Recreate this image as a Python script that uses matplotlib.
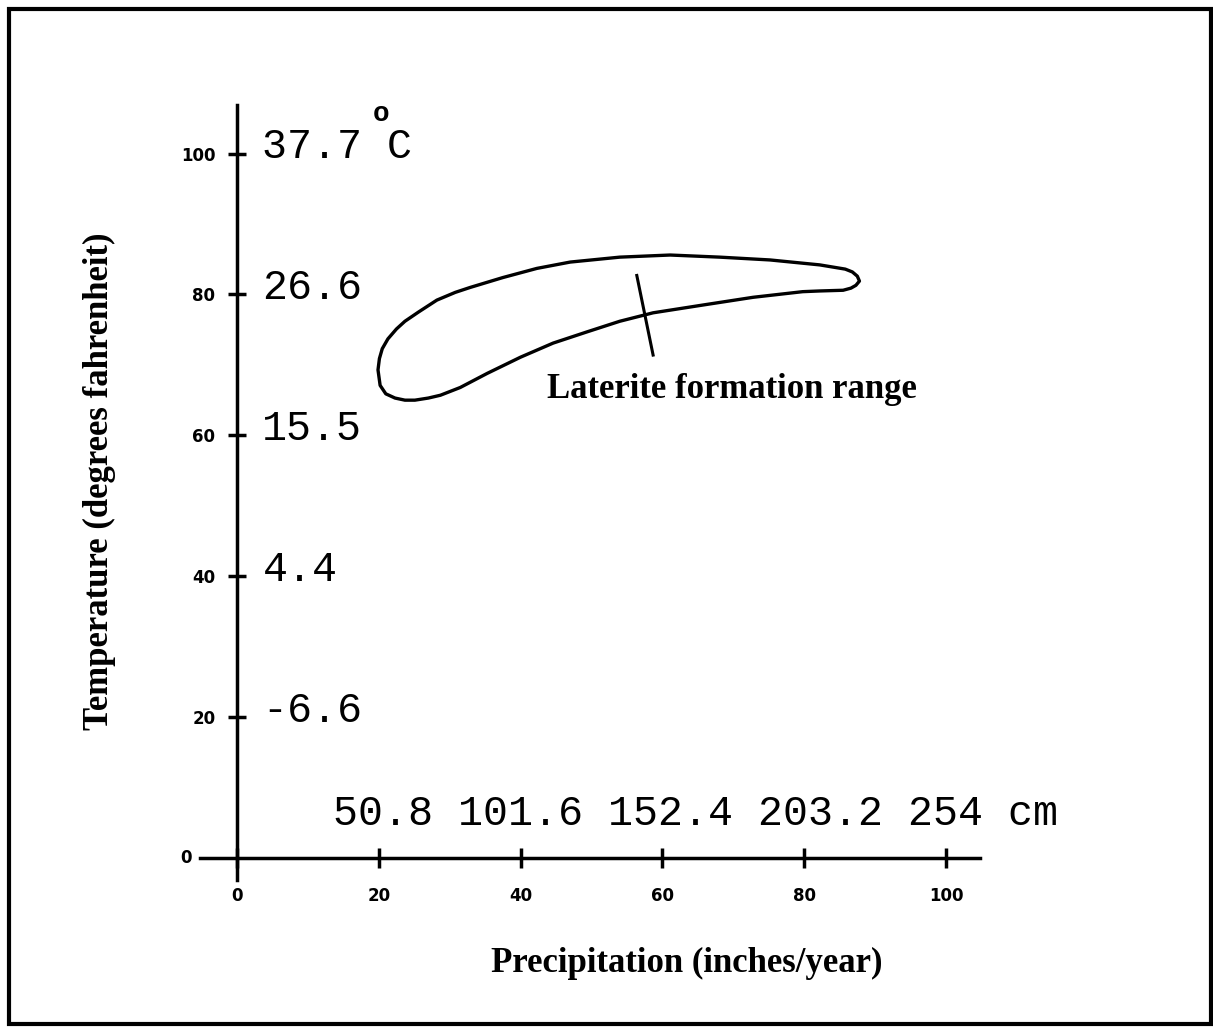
import matplotlib
matplotlib.use('Agg')
import matplotlib.pyplot as plt
from matplotlib.patches import Rectangle

# fahrenheit ticks and the typed celsius equivalents
f_ticks = [20, 40, 60, 80, 100]
c_labels = ['-6.6', '4.4', '15.5', '26.6', '37.7']
# inch ticks and typed cm equivalents
in_ticks = [0, 20, 40, 60, 80, 100]
cm_labels = ['50.8', '101.6', '152.4', '203.2', '254']

# laterite formation range outline (precip inches, temp F)
lat_x = [19.9, 20.1, 20.5, 21.3, 22.5, 23.7, 25.6, 28.2, 30.8, 32.9, 37.5,
         42.3, 47.0, 54.0, 61.1, 68.1, 75.2, 82.2, 85.8, 86.8, 87.5, 87.8,
         87.3, 86.6, 85.5, 82.2, 79.8, 72.8, 65.7, 58.7, 54.0, 49.4, 44.6,
         40.0, 35.3, 31.5, 28.7, 27.0, 25.1, 23.7, 22.3, 21.0, 20.2]
lat_y = [69.3, 70.9, 72.3, 73.7, 75.1, 76.2, 77.5, 79.2, 80.3, 81.0, 82.4,
         83.7, 84.6, 85.3, 85.6, 85.3, 84.9, 84.2, 83.6, 83.2, 82.6, 81.9,
         81.3, 80.9, 80.6, 80.5, 80.4, 79.6, 78.5, 77.4, 76.2, 74.7, 73.1,
         71.1, 68.8, 66.8, 65.7, 65.3, 65.0, 65.0, 65.3, 65.9, 67.1]
# pointer stroke across the outline
ptr_x = [56.4, 58.7]
ptr_y = [82.7, 71.4]

serif = 'Liberation Serif'
mono = 'Liberation Mono'
narrow = ['Liberation Sans Narrow', 'DejaVu Sans']

fig = plt.figure(figsize=(12.13, 10.28), dpi=100)
ax = fig.add_axes([0.1649, 0.1440, 0.6430, 0.7539])
ax.set_xlim(-5.2, 104.8)
ax.set_ylim(-3.1, 106.9)

for s in ['top', 'right']:
    ax.spines[s].set_visible(False)
ax.spines['left'].set_position(('data', 0))
ax.spines['bottom'].set_position(('data', 0))
ax.spines['left'].set_linewidth(2.5)
ax.spines['bottom'].set_linewidth(2.5)

ax.set_xticks(in_ticks)
ax.set_xticklabels([str(v) for v in in_ticks], family=narrow,
                   fontweight='bold', fontsize=12)
ax.set_yticks(f_ticks)
ax.set_yticklabels([str(v) for v in f_ticks], family=narrow,
                   fontweight='bold', fontsize=12)
ax.tick_params(axis='x', direction='inout', length=14, width=2.5, pad=14)
ax.tick_params(axis='y', direction='inout', length=13, width=2.5, pad=9)
ax.text(-6.3, 0, '0', family=narrow, fontweight='bold', fontsize=12,
        ha='right', va='center')

# outline (closed) and pointer
ax.fill(lat_x, lat_y, fill=False, edgecolor='black', lw=2.4,
        joinstyle='round')
ax.plot(ptr_x, ptr_y, color='black', lw=2.2)
ax.text(43.7, 65.3, 'Laterite formation range', family=serif,
        fontweight='bold', fontsize=25, ha='left', va='baseline')

# typed celsius values beside the fahrenheit ticks
for f, c in zip(f_ticks, c_labels):
    txt = c + ' C' if f == 100 else c
    ax.text(3.6, f + 0.9, txt, family=mono, fontsize=30, ha='left',
            va='center')
ax.text(20.3, 105.6, 'o', family=mono, fontsize=20, fontweight='bold',
        ha='center', va='center')

# typed cm line above the precipitation axis
ax.text(13.6, 6.2, ' '.join(cm_labels) + ' cm', family=mono, fontsize=30,
        ha='left', va='center')

fig.text(99 / 1213, 0.532, 'Temperature (degrees fahrenheit)', family=serif,
         fontweight='bold', fontsize=25, rotation=90, ha='center',
         va='center')
fig.text(0.5664, 0.0632, 'Precipitation (inches/year)', family=serif,
         fontweight='bold', fontsize=25, ha='center', va='center')

# frame around the whole figure
fig.patches.append(Rectangle((9 / 1213, 4 / 1028), 1202 / 1213, 1015 / 1028,
                             transform=fig.transFigure, fill=False,
                             edgecolor='black', lw=3))

fig.savefig('out.png', dpi=100)
